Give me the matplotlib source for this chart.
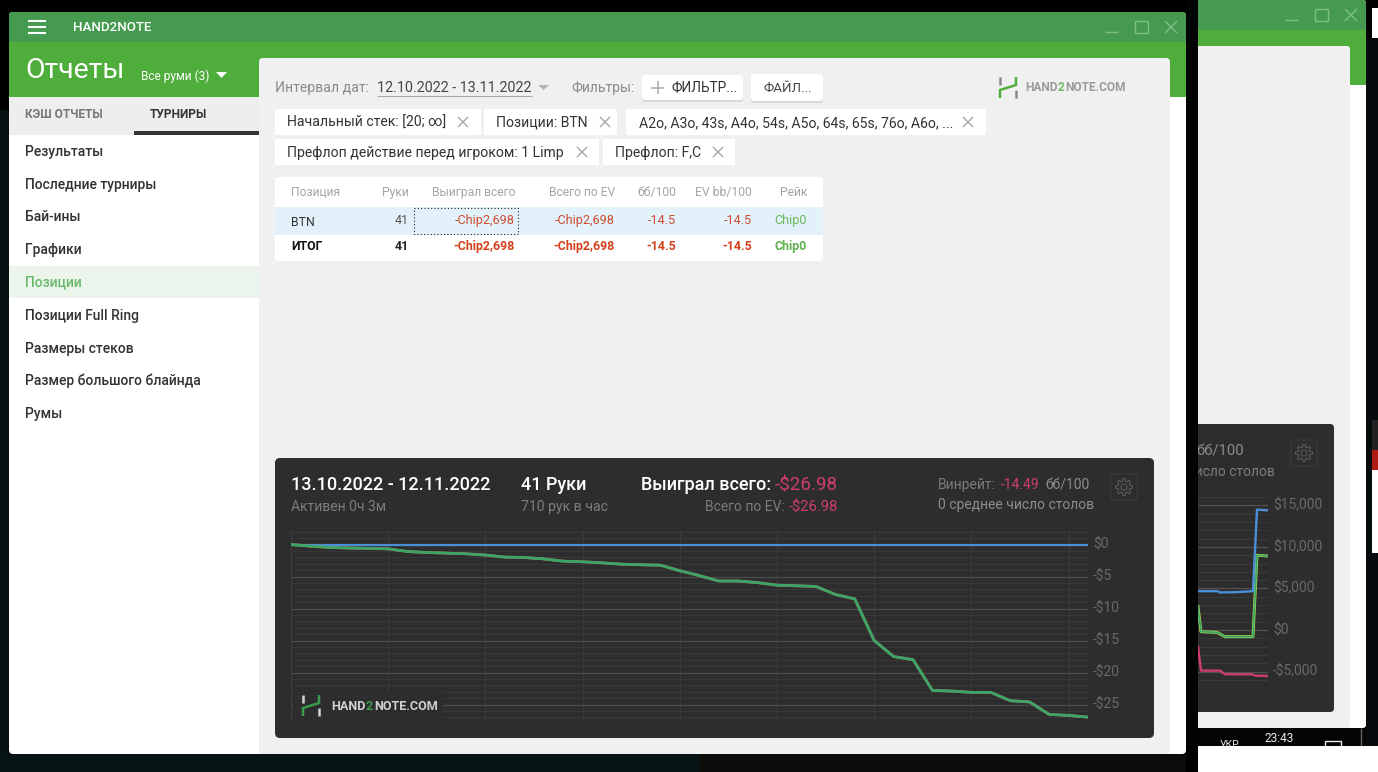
import matplotlib
matplotlib.use('Agg')
import matplotlib.pyplot as plt
import numpy as np
from matplotlib.patches import FancyBboxPatch, Rectangle, Circle
from matplotlib.ticker import MultipleLocator
from matplotlib.transforms import ScaledTranslation

plt.rcParams['font.family'] = ['Roboto', 'DejaVu Sans']

# Main graph data
hands = list(range(42))
won_total = [0, -0.26, -0.47, -0.55, -0.6, -0.68, -1.1, -1.25, -1.35, -1.45, -1.65, -1.97, -2.03, -2.25,
             -2.6, -2.7, -2.87, -3.07, -3.17, -3.23, -4.1, -4.85, -5.7, -5.7, -5.95, -6.35, -6.45, -6.55,
             -7.8, -8.5, -15.0, -17.5, -18.0, -22.8, -22.9, -23.1, -23.1, -24.4, -24.6, -26.55, -26.7, -26.98]
ev_total = won_total
no_showdown = [0] * 42
y_ticks = [0, -5, -10, -15, -20, -25]
y_labels = ['$0', '-$5', '-$10', '-$15', '-$20', '-$25']
x_ticks = [0, 5, 10, 15, 20, 25, 30, 35, 40, 41]

# Window behind, only the right end of its graph shows
back_blue_x = [0, 19, 22, 39, 55, 59, 70]
back_blue = [4680, 4680, 4520, 4560, 4680, 14480, 14400]
back_green_x = [0, 3, 19, 27, 55, 59, 70]
back_green = [2800, -200, -280, -800, -800, 9000, 8900]
back_pink_x = [0, 3, 22, 27, 54, 57, 70]
back_pink = [-2000, -4880, -4880, -5320, -5320, -5480, -5520]
back_ticks = [15000, 10000, 5000, 0, -5000]
back_labels = ['$15,000', '$10,000', '$5,000', '$0', '-$5,000']

# Sidebar and table text
menu_items = ['Результаты', 'Последние турниры', 'Бай-ины', 'Графики', 'Позиции',
              'Позиции Full Ring', 'Размеры стеков', 'Размер большого блайнда', 'Румы']
table_head = ['Руки', 'Выиграл всего', 'Всего по EV', 'бб/100', 'EV bb/100', 'Рейк']
table_row = ['41', '-Chip2,698', '-Chip2,698', '-14.5', '-14.5', 'Chip0']

W, H = 1378, 772
fig = plt.figure(figsize=(W / 100, H / 100), dpi=100, facecolor='#000000')


def axes_px(x0, y0, x1, y1, z):
    return fig.add_axes([x0 / W, 1 - y1 / H, (x1 - x0) / W, (y1 - y0) / H], zorder=z)


bg = axes_px(0, 0, W, H, 0)
bg.set_xlim(0, W)
bg.set_ylim(H, 0)
bg.axis('off')


# everything below is drawn in order, later things cover earlier ones
def box(x0, y0, x1, y1, color, r=0, a=bg):
    if r == 0:
        a.add_patch(Rectangle((x0, y0), x1 - x0, y1 - y0, fc=color, lw=0, zorder=2))
    else:
        a.add_patch(FancyBboxPatch((x0 + r, y0 + r), x1 - x0 - 2 * r, y1 - y0 - 2 * r,
                                   boxstyle=f'round,pad={r},rounding_size={r}', fc=color, lw=0, zorder=2))


def txt(x, y, s, size=10, color='#333333', weight='normal', ha='left', a=bg):
    return a.text(x, y + 1.8, s, fontsize=size, color=color, fontweight=weight, ha=ha, va='center', zorder=2)


def line(xs, ys, color, lw=1, a=bg):
    a.plot(xs, ys, color=color, lw=lw, zorder=2, solid_capstyle='butt')


def cross(x, y, color='#a8a8a8', s=5, lw=1):
    line([x - s, x + s], [y - s, y + s], color, lw)
    line([x - s, x + s], [y + s, y - s], color, lw)


def logo(x, y, green, grey, a=bg):
    # little H mark of the site
    line([x + 2, x + 2], [y, y + 8], grey, 1.8, a=a)
    line([x + 18, x + 18], [y + 13, y + 21], grey, 1.8, a=a)
    line([x + 2, x + 2, x + 18, x + 18], [y + 21, y + 13, y + 8, y], green, 1.8, a=a)


def logo_text(x, y, size, grey, green, a=bg):
    # three pieces, the 2 is green, each starts where the last one ended
    r = fig.canvas.get_renderer()
    for part, c in [('HAND', grey), ('2', green), ('NOTE.COM', grey)]:
        t = txt(x, y, part, size, c, 'bold', a=a)
        x = a.transData.inverted().transform(t.get_window_extent(r))[1][0] + 0.6


def gear(x, y):
    box(x - 13.5, y - 13.5, x + 13.5, y + 13.5, '#3c3c3c', 2)
    box(x - 12.5, y - 12.5, x + 12.5, y + 12.5, '#2d2d2d', 2)
    ang = np.linspace(0, 2 * np.pi, 161)
    rad = 7.2 + 1.3 * np.clip(2.2 * np.cos(8 * ang), -1, 1)
    line(x + rad * np.cos(ang), y + rad * np.sin(ang), '#5a5a5a', 0.8)
    bg.add_patch(Circle((x, y), 3, fc='none', ec='#5a5a5a', lw=0.8, zorder=2))


def controls(x, y):
    c = '#7fbf86'
    line([x, x + 13], [y + 11, y + 11], c, 1)
    bg.add_patch(Rectangle((x + 30, y), 13, 12, fc='none', ec=c, lw=1, zorder=2))
    cross(x + 66, y + 6, c, 6, 1)


def nudge_labels(a):
    # labels sit a bit above their grid lines
    for label in a.get_yticklabels():
        label.set_transform(label.get_transform() + ScaledTranslation(0, 1.5 / 100, fig.dpi_scale_trans))


# Dark desktop around the windows
box(0, 110, 9, 772, '#071013')
box(0, 754, 700, 772, '#071416')
box(700, 754, 1186, 772, '#0d0b09')
box(1366, 38, W, H, '#060c0e')

# Window behind, its left part is hidden by the strip
box(1190, 0, 1366, 728, '#ffffff', 3)
box(1190, 0, 1366, 30, '#459a4f', 3)
box(1190, 5, 1366, 30, '#459a4f')
box(1190, 30, 1366, 85, '#4fae3b')
box(1190, 46, 1350, 728, '#f0f0f0', 3)
box(1190, 424, 1334, 712, '#2d2d2d', 4)
controls(1285, 9)
txt(1244, 450, 'бб/100', 10.6, '#8c8c8c', ha='right')
txt(1275, 470, 'число столов', 10, '#7c7c7c', ha='right')
gear(1304, 453)

# Taskbar
box(1198, 728, 1366, 746, '#050505')
txt(1279, 737, '23:43', 8.5, '#eeeeee', ha='center')
txt(1229, 743, 'УКР', 7.5, '#dddddd', ha='center')
bg.add_patch(Rectangle((1325, 741), 16, 8, fc='none', ec='#eeeeee', lw=1, zorder=2))
line([1361, 1361], [728, 746], '#666666', 1)
box(1198, 746, W, H, '#ffffff')

# Bits of other things at the right edge
box(1372, 8, W, 38, '#ffffff')
box(1372, 420, W, 450, '#222222')
box(1372, 450, W, 470, '#b01c14')
box(1372, 470, W, 553, '#ffffff')

# Strip between the windows
box(1186, 0, 1198, 746, '#020404')

# Main window
box(9, 12, 1186, 754, '#ffffff', 4)
box(9, 12, 1186, 42, '#459a4f', 4)
box(9, 20, 1186, 42, '#459a4f')
box(9, 42, 1186, 97, '#4fae3b')
box(9, 97, 259, 135, '#eeeeee')
box(134, 131, 259, 135, '#333333')
box(259, 58, 1170, 754, '#f0f0f0', 4)
box(259, 70, 280, 754, '#f0f0f0')
for yy in [21, 27, 33]:
    line([28, 46], [yy, yy], '#ffffff', 1.5)
controls(1105, 21)
txt(73, 26, 'HAND2NOTE', 9.6, '#ffffff', 'medium')
txt(25, 69, 'Отчеты', 20.5, '#ffffff')
txt(141, 74, 'Все руми (3)', 8.6, '#ffffff')
bg.fill([216, 227, 221.5], [72, 72, 78], color='#ffffff', lw=0, zorder=2)
txt(25, 113, 'КЭШ ОТЧЕТЫ', 8.6, '#757575', 'bold')
txt(150, 113, 'ТУРНИРЫ', 8.6, '#333333', 'bold')

# Sidebar
box(9, 266, 259, 298, '#ebf5ec')
menu_y = [150, 183, 215, 248, 281, 314, 347, 379, 412]
for label, yy in zip(menu_items, menu_y):
    c = '#6ab96a' if label == 'Позиции' else '#333333'
    txt(25, yy, label, 10, c, 'medium')

# Filter row
txt(275, 86, 'Интервал дат:', 10.1, '#8a8a8a')
txt(377, 86, '12.10.2022 - 13.11.2022', 10.25, '#444444')
line([377, 532], [96, 96], '#aaaaaa', 0.8)
bg.fill([538, 549, 543.5], [85, 85, 90], color='#b5b5b5', lw=0, zorder=2)
txt(571, 86, 'Фильтры:', 10, '#8a8a8a')
box(642, 76, 743, 102, '#d8d8d8', 3)
box(642, 75, 743, 100, '#ffffff', 3)
line([651, 664], [87.5, 87.5], '#aaaaaa', 1.1)
line([657.5, 657.5], [81, 94], '#aaaaaa', 1.1)
txt(672, 86, 'ФИЛЬТР...', 9.8, '#333333')
box(751, 75, 823, 103, '#d8d8d8', 3)
box(751, 74, 823, 101, '#ffffff', 3)
txt(763, 87, 'ФАЙЛ...', 9.6, '#444444')
logo(998, 77, '#4fae3b', '#8a8a8a')
logo_text(1025, 86, 8.6, '#9a9a9a', '#6dbb6d')

# Filter chips
chips = [(275, 481, 109, 'Начальный стек: [20; ∞]', 463),
         (484, 617, 109, 'Позиции: BTN', 605),
         (626, 986, 109, 'A2o, A3o, 43s, A4o, 54s, A5o, 64s, 65s, 76o, A6o, ...', 968),
         (275, 599, 139, 'Префлоп действие перед игроком: 1 Limp', 582),
         (603, 735, 139, 'Префлоп: F,C', 718)]
for x0, x1, y0, label, xm in chips:
    box(x0, y0, x1, y0 + 26, '#ffffff', 2)
    txt(x0 + 12 if x0 != 626 else x0 + 13, y0 + 12, label, 10.1, '#333333')
    cross(xm, y0 + 13)

# Table
col_x = [409, 515, 615, 676, 752, 807]
box(275, 177, 823, 261, '#ffffff', 3)
box(275, 207, 823, 235, '#e3f1fb')
txt(291, 190.5, 'Позиция', 8.7, '#a5a5a5')
txt(291, 221, 'BTN', 8.8, '#333333')
txt(291, 244.5, 'ИТОГ', 8.8, '#111111', 'bold')
for i in range(6):
    txt(col_x[i], 190.5, table_head[i], 8.7, '#a5a5a5', ha='right')
    c1 = '#555555' if i == 0 else ('#6ab75c' if i == 5 else '#cc4d2e')
    c2 = '#222222' if i == 0 else ('#5fb04f' if i == 5 else '#d4401a')
    txt(col_x[i], 218.5, table_row[i], 9.1, c1, ha='right')
    txt(col_x[i], 244.5, table_row[i], 8.9, c2, 'bold', ha='right')
bg.add_patch(Rectangle((414, 208), 104, 26, fc='none', ec='#222222', lw=0.8, ls=(0, (1, 2)), zorder=2))

# Graph card
box(275, 458, 1154, 738, '#2d2d2d', 5)
txt(291, 483.5, '13.10.2022 - 12.11.2022', 13, '#ffffff', 'medium')
txt(291, 505.5, 'Активен 0ч 3м', 10, '#7c7c7c')
txt(521, 483.5, '41 Руки', 13, '#ffffff', 'medium')
txt(521, 505.5, '710 рук в час', 10.1, '#7c7c7c')
txt(641, 483.5, 'Выиграл всего:', 13, '#ffffff', 'medium')
txt(838, 483.5, '-$26.98', 13.5, '#cf3d72', ha='right')
txt(785, 505.5, 'Всего по EV:', 10, '#7c7c7c', ha='right')
txt(838, 505.5, '-$26.98', 10.6, '#cf3d72', ha='right')
txt(938, 483.5, 'Винрейт:', 10, '#7c7c7c')
txt(1001, 483.5, '-14.49', 10, '#cf3d72')
txt(1045, 483.5, 'бб/100', 10, '#8c8c8c')
txt(938, 503.5, '0 среднее число столов', 10, '#8c8c8c')
gear(1124, 487)

# Main graph
ax = axes_px(291, 531, 1088, 722, 2)
ax.patch.set_alpha(0)
ax.plot(hands, no_showdown, color='#4a90d9', lw=1.6, zorder=3)
ax.plot(hands, ev_total, color='#b98a55', lw=2.0, zorder=4)
ax.plot(hands, won_total, color='#2fa86a', lw=1.9, alpha=0.92, zorder=5)
ax.set_xlim(0, 41)
ax.set_ylim(-27.73, 2.11)
ax.set_xticks(x_ticks)
ax.set_xticklabels([])
ax.set_yticks(y_ticks)
ax.set_yticklabels(y_labels, fontsize=10, color='#696969')
ax.yaxis.set_minor_locator(MultipleLocator(1))
ax.yaxis.tick_right()
ax.tick_params(which='both', length=0, pad=3.5)
ax.grid(True, axis='y', which='major', color='#4c4c4c', lw=0.9)
ax.grid(True, axis='y', which='minor', color='#393939', lw=0.7)
ax.grid(True, axis='x', which='major', color='#3d3d3d', lw=0.7)
ax.set_axisbelow(True)
for s in ax.spines.values():
    s.set_visible(False)
nudge_labels(ax)

# Graph of the window behind
ax2 = axes_px(1198, 497, 1268.3, 688, 2)
ax2.patch.set_alpha(0)
ax2.plot(back_pink_x, back_pink, color='#cf3d72', lw=1.7, zorder=3)
ax2.plot(back_green_x, back_green, color='#b4dc50', lw=2.1, zorder=3)
ax2.plot(back_green_x, back_green, color='#35a56b', lw=1.2, zorder=4)
ax2.plot(back_blue_x, back_blue, color='#4a90d9', lw=1.7, zorder=5)
ax2.set_xlim(0, 70.3)
ax2.set_ylim(-6970, 16000)
ax2.set_xticks([])
ax2.set_yticks(back_ticks)
ax2.set_yticklabels(back_labels, fontsize=10, color='#696969')
ax2.yaxis.set_minor_locator(MultipleLocator(1000))
ax2.yaxis.tick_right()
ax2.tick_params(which='both', length=0, pad=3.5)
ax2.grid(True, axis='y', which='major', color='#525252', lw=0.9)
ax2.grid(True, axis='y', which='minor', color='#3b3b3b', lw=0.7)
ax2.set_axisbelow(True)
for s in ax2.spines.values():
    s.set_visible(False)
nudge_labels(ax2)

# Watermark goes over the graph
over = axes_px(0, 0, W, H, 3)
over.set_xlim(0, W)
over.set_ylim(H, 0)
over.axis('off')
over.patch.set_alpha(0)
box(293, 692, 443, 722, '#2d2d2d', 2, a=over)
logo(301, 695, '#3c9a4c', '#d5d5d5', a=over)
logo_text(331, 704.5, 9.1, '#d0d0d0', '#3c9a4c', a=over)

plt.savefig('out.png', dpi=100, facecolor=fig.get_facecolor())
